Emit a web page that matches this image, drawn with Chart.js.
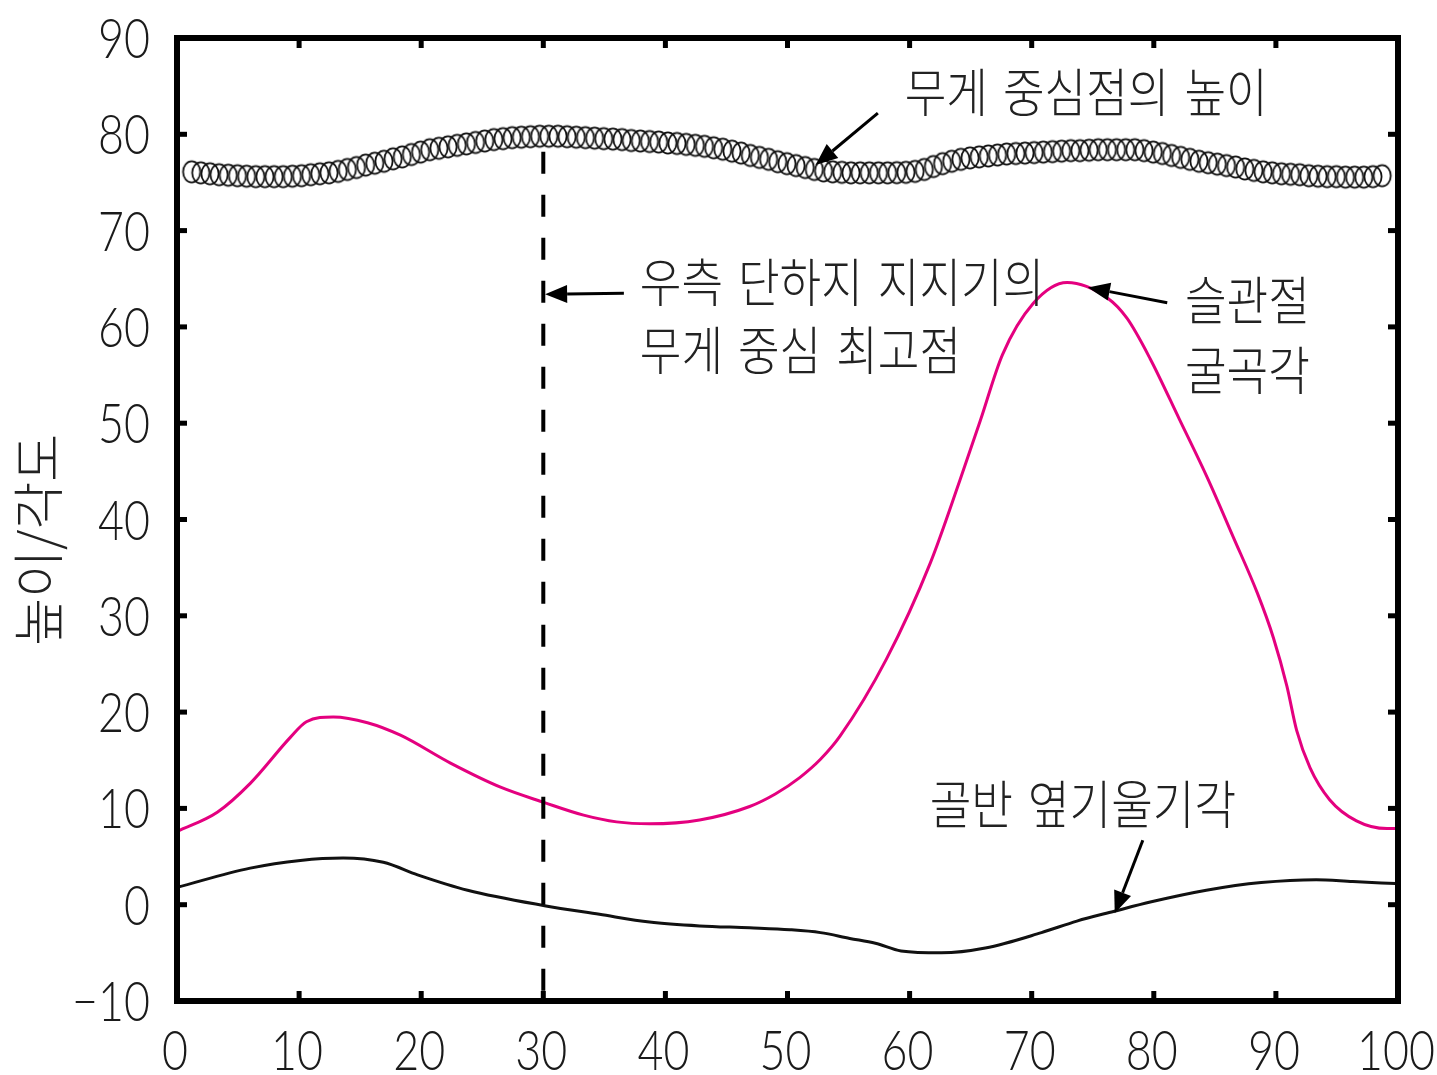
<!DOCTYPE html>
<html><head><meta charset="utf-8">
<script src="https://cdn.jsdelivr.net/npm/chart.js@4"></script>
<style>html,body{margin:0;padding:0;background:#fff}canvas{display:block}</style>
</head><body>
<canvas id="c" width="1437" height="1075"></canvas>
<script>
// ---- data ----
const xTickValues = [0,10,20,30,40,50,60,70,80,90,100];
const yTickValues = [-10,0,10,20,30,40,50,60,70,80,90];
const yTitle = '높이/각도';

// centre-of-mass height (open circles), sampled every 0.75 % of the gait cycle from 1.2 %
const comStart = 1.2, comStep = 0.75;
const comHeight = [
76.1,76.0,75.9,75.8,75.75,75.7,75.65,75.6,75.6,75.6,
75.6,75.65,75.7,75.8,75.9,76.0,76.15,76.35,76.55,76.8,
77.0,77.2,77.45,77.65,77.9,78.15,78.4,78.55,78.7,78.85,
79.0,79.15,79.3,79.45,79.55,79.65,79.7,79.75,79.8,79.8,
79.8,79.75,79.7,79.65,79.6,79.55,79.5,79.45,79.35,79.3,
79.25,79.2,79.1,79.05,78.95,78.85,78.75,78.6,78.45,78.25,
78.05,77.8,77.6,77.4,77.15,76.95,76.75,76.55,76.35,76.2,
76.1,76.05,76.0,76.0,76.0,76.0,76.0,76.02,76.05,76.15,
76.35,76.65,76.95,77.2,77.4,77.55,77.65,77.75,77.85,77.95,
78.0,78.05,78.1,78.15,78.2,78.25,78.3,78.3,78.35,78.4,
78.4,78.4,78.4,78.4,78.3,78.15,78.0,77.8,77.6,77.4,
77.2,77.05,76.9,76.75,76.6,76.4,76.25,76.1,76.0,75.9,
75.85,75.8,75.7,75.65,75.6,75.6,75.55,75.55,75.55,75.6,75.7
];

// knee flexion angle (magenta line)
const kneeX = [0,3.3,6.0,9.3,10.6,12.8,15.6,18.3,22.4,26.5,30.1,33.3,36.0,38.7,42.8,46.9,49.0,51.0,52.7,54.3,58.1,61.7,64.1,65.8,67.6,70.1,72.9,76.2,77.8,79.7,82.1,84.4,86.5,88.5,89.8,90.9,91.7,92.8,94.4,96.6,99.1,100];
const kneeY = [7.6,9.6,12.6,17.4,19.0,19.5,18.9,17.6,14.7,12.2,10.6,9.3,8.6,8.4,8.8,10.2,11.5,13.2,15.1,17.5,25.5,35.5,44.0,50.3,57.1,62.4,64.6,63.0,60.9,56.7,50.4,44.3,38.2,32.3,27.7,22.7,18.1,14.2,10.9,8.7,7.9,7.9];

// pelvic obliquity angle (black line)
const pelvisX = [0,6.0,10.1,13.6,16.9,19.7,23.8,30.1,34.6,38.7,42.8,46.9,50.2,52.7,55.1,57.2,59.3,62.6,66.2,70.8,73.7,76.7,79.8,84.3,88.8,93.3,96.3,99.8];
const pelvisY = [1.8,3.8,4.6,4.85,4.4,3.1,1.5,-0.1,-1.0,-1.8,-2.2,-2.4,-2.6,-2.9,-3.5,-4.0,-4.8,-5.0,-4.5,-2.9,-1.7,-0.7,0.3,1.5,2.3,2.6,2.4,2.2];

// right single-support peak of the centre of mass (dashed vertical)
const peakX = [30,30];
const peakY = [78.2,-10];

// annotations: text lines and arrows, in data units
const labelTexts = ['무게 중심점의 높이','우측 단하지 지지기의','무게 중심 최고점','슬관절','굴곡각','골반 옆기울기각'];
const labelX = [59.6,37.9,37.9,82.55,82.55,61.65];
const labelY = [84.4,64.65,57.6,62.8,55.5,10.4];
const arrowFromX = [57.4,36.6,81.1,79.1];
const arrowFromY = [82.2,63.5,62.5,6.7];
const arrowToX = [52.3,30.15,74.6,76.8];
const arrowToY = [76.8,63.4,64.1,-0.9];
const yTitleCenter = 37.9;   // data value at which the y-axis title is centred

// ---- drawing ----
function ringImage(){
  const c = document.createElement('canvas'); c.width = 22; c.height = 26;
  const g = c.getContext('2d');
  g.strokeStyle = '#111'; g.lineWidth = 1.8;
  g.beginPath(); g.ellipse(11,13,8.6,10.6,0,0,Math.PI*2); g.stroke();
  return c;
}
const pts = (xs,ys)=>xs.map((x,i)=>({x, y: ys[i]}));
const comPts = comHeight.map((v,i)=>({x: comStart + comStep*i, y: v}));

const KFONT = '"Noto Sans CJK KR","Noto Sans",sans-serif';
const NFONT = 'Lato,Roboto,"Liberation Sans",sans-serif';
const fmt = v => (v < 0 ? '\u2212' + Math.abs(v) : String(v));

function squeezedText(ctx, s, px, py, sx, align){
  ctx.save();
  ctx.translate(px, py);
  ctx.scale(sx, 1);
  ctx.textAlign = align;
  ctx.fillText(s, 0, 0);
  ctx.restore();
}

const framePlugin = {
  id: 'frame',
  afterDatasetsDraw(chart){
    const {ctx, chartArea: a, scales: {x, y}} = chart;
    ctx.save();
    ctx.strokeStyle = '#000'; ctx.fillStyle = '#000';
    ctx.lineWidth = 6;
    ctx.strokeRect(a.left, a.top, a.right - a.left, a.bottom - a.top);
    const L = 10, W = 5;
    x.ticks.forEach(t => {
      const px = x.getPixelForValue(t.value);
      if (px <= a.left + 2 || px >= a.right - 2) return;
      ctx.fillRect(px - W/2, a.bottom - L, W, L);
      ctx.fillRect(px - W/2, a.top, W, L);
    });
    y.ticks.forEach(t => {
      const py = y.getPixelForValue(t.value);
      if (py <= a.top + 2 || py >= a.bottom - 2) return;
      ctx.fillRect(a.left, py - W/2, L, W);
      ctx.fillRect(a.right - L, py - W/2, L, W);
    });
    // tick labels (condensed, thin digits)
    ctx.fillStyle = '#1a1a1a';
    ctx.font = '300 56px ' + NFONT;
    ctx.textBaseline = 'alphabetic';
    x.ticks.forEach(t => {
      squeezedText(ctx, fmt(t.value), x.getPixelForValue(t.value) - 2, a.bottom + 69, 0.8, 'center');
    });
    y.ticks.forEach(t => {
      squeezedText(ctx, fmt(t.value), a.left - 27, y.getPixelForValue(t.value) + 20, 0.8, 'right');
    });
    // y-axis title
    ctx.fillStyle = '#222';
    ctx.font = '300 52px ' + KFONT;
    ctx.save();
    ctx.translate(38, y.getPixelForValue(yTitleCenter));
    ctx.rotate(-Math.PI/2);
    ctx.textAlign = 'center'; ctx.textBaseline = 'middle';
    ctx.fillText(yTitle, 0, 0);
    ctx.restore();
    // arrows
    ctx.fillStyle = '#000';
    ctx.lineWidth = 3;
    for (let i = 0; i < arrowFromX.length; i++){
      const x0 = x.getPixelForValue(arrowFromX[i]), y0 = y.getPixelForValue(arrowFromY[i]);
      const x1 = x.getPixelForValue(arrowToX[i]), y1 = y.getPixelForValue(arrowToY[i]);
      const ang = Math.atan2(y1 - y0, x1 - x0);
      const hl = 22, hw = 9;
      const bx = x1 - hl*Math.cos(ang), by = y1 - hl*Math.sin(ang);
      ctx.beginPath(); ctx.moveTo(x0, y0); ctx.lineTo(bx, by); ctx.stroke();
      ctx.beginPath();
      ctx.moveTo(x1, y1);
      ctx.lineTo(bx + hw*Math.sin(ang), by - hw*Math.cos(ang));
      ctx.lineTo(bx - hw*Math.sin(ang), by + hw*Math.cos(ang));
      ctx.closePath(); ctx.fill();
    }
    // annotation texts
    ctx.fillStyle = '#222';
    ctx.font = '300 52px ' + KFONT;
    ctx.textBaseline = 'middle';
    const sx = 0.87, gap = 15;
    labelTexts.forEach((s, i) => {
      let px = x.getPixelForValue(labelX[i]);
      const py = y.getPixelForValue(labelY[i]);
      s.split(' ').forEach(w => {
        squeezedText(ctx, w, px, py, sx, 'left');
        px += ctx.measureText(w).width * sx + gap;
      });
    });
    ctx.restore();
  }
};

const zeroPad = s => { s.paddingLeft = 0; s.paddingRight = 0; s.paddingTop = 0; s.paddingBottom = 0; };

new Chart(document.getElementById('c'), {
  type: 'scatter',
  data: {
    datasets: [
      { data: pts(peakX, peakY), showLine: true, borderColor: '#000', borderWidth: 4, borderDash: [22,21], pointRadius: 0, fill: false },
      { data: pts(pelvisX, pelvisY), showLine: true, borderColor: '#111', borderWidth: 3, pointRadius: 0, cubicInterpolationMode: 'monotone', fill: false },
      { data: pts(kneeX, kneeY), showLine: true, borderColor: '#E4007F', borderWidth: 3, pointRadius: 0, cubicInterpolationMode: 'monotone', fill: false },
      { data: comPts, showLine: false, pointStyle: ringImage(), pointRadius: 10 }
    ]
  },
  options: {
    responsive: false, animation: false, events: [], devicePixelRatio: 1,
    layout: { padding: { top: 38, right: 39, left: 0, bottom: 0 } },
    plugins: { legend: { display: false }, tooltip: { enabled: false } },
    scales: {
      x: {
        type: 'linear', min: 0, max: 100,
        afterBuildTicks: s => { s.ticks = xTickValues.map(v => ({value: v})); },
        afterFit: s => { s.height = 74; zeroPad(s); },
        grid: { display: false, drawTicks: false }, border: { display: false },
        ticks: { display: false }
      },
      y: {
        type: 'linear', min: -10, max: 90,
        afterBuildTicks: s => { s.ticks = yTickValues.map(v => ({value: v})); },
        afterFit: s => { s.width = 177; zeroPad(s); },
        grid: { display: false, drawTicks: false }, border: { display: false },
        ticks: { display: false },
        title: { display: false, text: yTitle }
      }
    }
  },
  plugins: [framePlugin]
});
</script>
</body></html>
